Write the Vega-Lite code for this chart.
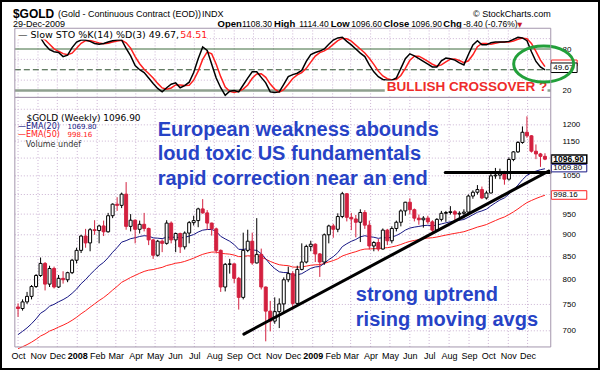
{
"$schema": "https://vega.github.io/schema/vega-lite/v6.json",
"width": 600,
"height": 370,
"autosize": {"type": "none"},
"padding": 0,
"background": "white",
"config": {"view": {"stroke": "black", "strokeWidth": 4}, "text": {"font": "Liberation Sans"}, "axisX": {"labelOverlap": false, "labelFlush": false}, "axis": {"labelOverlap": false}},
"datasets": {
"px": [
{"date":"2007-10-01","o":745,"h":752,"l":726,"c":742,"e20":693.1,"e50":668.0,"k":96,"d":95},
{"date":"2007-10-08","o":742,"h":760,"l":738,"c":755,"e20":699.0,"e50":671.4,"k":97,"d":96},
{"date":"2007-10-15","o":755,"h":775,"l":751,"c":766,"e20":705.4,"e50":675.1,"k":97,"d":96.7},
{"date":"2007-10-22","o":766,"h":789,"l":760,"c":786,"e20":713.1,"e50":679.5,"k":98,"d":97.3},
{"date":"2007-10-29","o":786,"h":812,"l":783,"c":809,"e20":722.2,"e50":684.6,"k":98,"d":97.7},
{"date":"2007-11-05","o":809,"h":848,"l":806,"c":835,"e20":732.9,"e50":690.5,"k":96,"d":97.3},
{"date":"2007-11-12","o":835,"h":838,"l":778,"c":791,"e20":738.4,"e50":694.4,"k":86,"d":93.3},
{"date":"2007-11-19","o":791,"h":830,"l":785,"c":824,"e20":746.5,"e50":699.5,"k":79,"d":87},
{"date":"2007-11-26","o":824,"h":828,"l":782,"c":785,"e20":750.2,"e50":702.8,"k":76,"d":80.3},
{"date":"2007-12-03","o":785,"h":810,"l":783,"c":803,"e20":755.2,"e50":706.8,"k":75,"d":76.7},
{"date":"2007-12-10","o":803,"h":818,"l":792,"c":800,"e20":759.5,"e50":710.4,"k":69,"d":73.3},
{"date":"2007-12-17","o":800,"h":817,"l":795,"c":815,"e20":764.8,"e50":714.5,"k":71,"d":71.7},
{"date":"2007-12-24","o":815,"h":845,"l":812,"c":842,"e20":772.1,"e50":719.5,"k":82,"d":74},
{"date":"2007-12-31","o":842,"h":870,"l":835,"c":864,"e20":780.8,"e50":725.2,"k":90,"d":81},
{"date":"2008-01-07","o":864,"h":900,"l":858,"c":897,"e20":791.9,"e50":731.9,"k":93,"d":88.3},
{"date":"2008-01-14","o":897,"h":914,"l":870,"c":881,"e20":800.4,"e50":737.8,"k":93,"d":92},
{"date":"2008-01-21","o":881,"h":916,"l":862,"c":912,"e20":811.0,"e50":744.6,"k":91,"d":92.3},
{"date":"2008-01-28","o":912,"h":935,"l":900,"c":910,"e20":820.4,"e50":751.1,"k":88,"d":90.7},
{"date":"2008-02-04","o":910,"h":924,"l":880,"c":921,"e20":830.0,"e50":757.7,"k":87,"d":88.7},
{"date":"2008-02-11","o":921,"h":934,"l":897,"c":907,"e20":837.3,"e50":763.6,"k":88,"d":87.7},
{"date":"2008-02-18","o":907,"h":953,"l":905,"c":946,"e20":847.6,"e50":770.7,"k":90,"d":88.3},
{"date":"2008-02-25","o":946,"h":977,"l":940,"c":975,"e20":859.7,"e50":778.7,"k":92,"d":90},
{"date":"2008-03-03","o":975,"h":993,"l":958,"c":972,"e20":870.4,"e50":786.3,"k":93,"d":91.7},
{"date":"2008-03-10","o":972,"h":1005,"l":965,"c":1001,"e20":882.8,"e50":794.7,"k":93,"d":92.7},
{"date":"2008-03-17","o":1001,"h":1033,"l":912,"c":920,"e20":886.3,"e50":799.6,"k":81,"d":89},
{"date":"2008-03-24","o":920,"h":950,"l":908,"c":935,"e20":890.9,"e50":804.9,"k":70,"d":81.3},
{"date":"2008-03-31","o":935,"h":937,"l":880,"c":913,"e20":893.0,"e50":809.2,"k":56,"d":69},
{"date":"2008-04-07","o":913,"h":934,"l":903,"c":925,"e20":896.0,"e50":813.7,"k":50,"d":58.7},
{"date":"2008-04-14","o":925,"h":953,"l":908,"c":915,"e20":897.8,"e50":817.7,"k":46,"d":50.7},
{"date":"2008-04-21","o":915,"h":917,"l":876,"c":888,"e20":896.9,"e50":820.4,"k":38,"d":44.7},
{"date":"2008-04-28","o":888,"h":890,"l":845,"c":853,"e20":892.7,"e50":821.7,"k":30,"d":38},
{"date":"2008-05-05","o":853,"h":888,"l":850,"c":885,"e20":892.0,"e50":824.2,"k":23,"d":30.3},
{"date":"2008-05-12","o":885,"h":889,"l":860,"c":880,"e20":890.9,"e50":826.4,"k":18,"d":23.7},
{"date":"2008-05-19","o":880,"h":935,"l":877,"c":928,"e20":894.4,"e50":830.4,"k":24,"d":21.7},
{"date":"2008-05-26","o":928,"h":932,"l":880,"c":888,"e20":893.8,"e50":832.6,"k":29,"d":23.7},
{"date":"2008-06-02","o":888,"h":905,"l":860,"c":903,"e20":894.7,"e50":835.4,"k":31,"d":28},
{"date":"2008-06-09","o":903,"h":905,"l":858,"c":872,"e20":892.5,"e50":836.8,"k":24,"d":28},
{"date":"2008-06-16","o":872,"h":908,"l":866,"c":904,"e20":893.6,"e50":839.4,"k":27,"d":27.3},
{"date":"2008-06-23","o":904,"h":933,"l":880,"c":929,"e20":897.0,"e50":842.9,"k":32,"d":27.7},
{"date":"2008-06-30","o":929,"h":946,"l":922,"c":934,"e20":900.5,"e50":846.5,"k":46,"d":35},
{"date":"2008-07-07","o":934,"h":966,"l":918,"c":963,"e20":906.5,"e50":851.1,"k":66,"d":48},
{"date":"2008-07-14","o":963,"h":988,"l":951,"c":953,"e20":910.9,"e50":855.1,"k":83,"d":65},
{"date":"2008-07-21","o":953,"h":960,"l":912,"c":928,"e20":912.5,"e50":857.9,"k":78,"d":75.7},
{"date":"2008-07-28","o":928,"h":929,"l":898,"c":914,"e20":912.6,"e50":860.1,"k":58,"d":73},
{"date":"2008-08-04","o":914,"h":917,"l":857,"c":864,"e20":908.0,"e50":860.3,"k":38,"d":58},
{"date":"2008-08-11","o":864,"h":866,"l":775,"c":785,"e20":896.3,"e50":857.3,"k":24,"d":40},
{"date":"2008-08-18","o":785,"h":836,"l":776,"c":833,"e20":890.3,"e50":856.4,"k":13,"d":25},
{"date":"2008-08-25","o":833,"h":845,"l":813,"c":834,"e20":884.9,"e50":855.5,"k":19,"d":18.7},
{"date":"2008-09-01","o":834,"h":835,"l":793,"c":803,"e20":877.1,"e50":853.4,"k":20,"d":17.3},
{"date":"2008-09-08","o":803,"h":806,"l":740,"c":764,"e20":866.3,"e50":849.9,"k":18,"d":19},
{"date":"2008-09-15","o":764,"h":905,"l":760,"c":864,"e20":866.1,"e50":850.5,"k":28,"d":22},
{"date":"2008-09-22","o":864,"h":912,"l":860,"c":885,"e20":867.9,"e50":851.8,"k":38,"d":28},
{"date":"2008-09-29","o":885,"h":905,"l":832,"c":836,"e20":864.9,"e50":851.2,"k":47,"d":37.7},
{"date":"2008-10-06","o":836,"h":940,"l":835,"c":855,"e20":864.0,"e50":851.4,"k":47,"d":44},
{"date":"2008-10-13","o":855,"h":868,"l":780,"c":785,"e20":856.5,"e50":848.8,"k":39,"d":44.3},
{"date":"2008-10-20","o":785,"h":786,"l":681,"c":737,"e20":845.1,"e50":844.4,"k":31,"d":39},
{"date":"2008-10-27","o":737,"h":757,"l":699,"c":718,"e20":833.0,"e50":839.4,"k":18,"d":29.3},
{"date":"2008-11-03","o":718,"h":764,"l":713,"c":736,"e20":823.8,"e50":835.4,"k":17,"d":22},
{"date":"2008-11-10","o":736,"h":762,"l":705,"c":751,"e20":816.9,"e50":832.1,"k":18,"d":17.7},
{"date":"2008-11-17","o":751,"h":805,"l":732,"c":800,"e20":815.3,"e50":830.8,"k":29,"d":21.3},
{"date":"2008-11-24","o":800,"h":828,"l":795,"c":813,"e20":815.1,"e50":830.1,"k":40,"d":29},
{"date":"2008-12-01","o":813,"h":818,"l":740,"c":752,"e20":809.1,"e50":827.1,"k":43,"d":37.3},
{"date":"2008-12-08","o":752,"h":830,"l":750,"c":822,"e20":810.3,"e50":826.9,"k":45,"d":42.7},
{"date":"2008-12-15","o":822,"h":880,"l":820,"c":838,"e20":812.9,"e50":827.3,"k":49,"d":45.7},
{"date":"2008-12-22","o":838,"h":877,"l":835,"c":873,"e20":818.6,"e50":829.1,"k":62,"d":52},
{"date":"2008-12-29","o":873,"h":886,"l":862,"c":878,"e20":824.3,"e50":831.0,"k":72,"d":61},
{"date":"2009-01-05","o":878,"h":880,"l":838,"c":856,"e20":827.3,"e50":832.0,"k":75,"d":69.7},
{"date":"2009-01-12","o":856,"h":858,"l":806,"c":838,"e20":828.3,"e50":832.2,"k":77,"d":74.7},
{"date":"2009-01-19","o":838,"h":903,"l":832,"c":900,"e20":835.1,"e50":834.9,"k":80,"d":77.3},
{"date":"2009-01-26","o":900,"h":924,"l":880,"c":921,"e20":843.3,"e50":838.2,"k":87,"d":81.3},
{"date":"2009-02-02","o":921,"h":926,"l":893,"c":913,"e20":849.9,"e50":841.2,"k":93,"d":86.7},
{"date":"2009-02-09","o":913,"h":952,"l":906,"c":944,"e20":858.9,"e50":845.2,"k":96,"d":92},
{"date":"2009-02-16","o":944,"h":1007,"l":940,"c":1002,"e20":872.5,"e50":851.4,"k":97,"d":95.3},
{"date":"2009-02-23","o":1002,"h":1004,"l":932,"c":942,"e20":879.1,"e50":854.9,"k":91,"d":94.7},
{"date":"2009-03-02","o":942,"h":953,"l":911,"c":938,"e20":884.7,"e50":858.2,"k":86,"d":91.3},
{"date":"2009-03-09","o":938,"h":948,"l":894,"c":930,"e20":889.0,"e50":861.0,"k":80,"d":85.7},
{"date":"2009-03-16","o":930,"h":962,"l":883,"c":954,"e20":895.2,"e50":864.6,"k":74,"d":80},
{"date":"2009-03-23","o":954,"h":960,"l":914,"c":923,"e20":897.8,"e50":866.9,"k":69,"d":74.3},
{"date":"2009-03-30","o":923,"h":934,"l":866,"c":874,"e20":895.5,"e50":867.2,"k":57,"d":66.7},
{"date":"2009-04-06","o":874,"h":885,"l":862,"c":882,"e20":894.2,"e50":867.8,"k":47,"d":57.7},
{"date":"2009-04-13","o":882,"h":890,"l":862,"c":867,"e20":891.6,"e50":867.8,"k":40,"d":48},
{"date":"2009-04-20","o":867,"h":915,"l":866,"c":911,"e20":893.4,"e50":869.5,"k":36,"d":41},
{"date":"2009-04-27","o":911,"h":914,"l":876,"c":886,"e20":892.7,"e50":870.1,"k":35,"d":37},
{"date":"2009-05-04","o":886,"h":920,"l":880,"c":915,"e20":894.8,"e50":871.9,"k":35,"d":35.3},
{"date":"2009-05-11","o":915,"h":934,"l":908,"c":930,"e20":898.2,"e50":874.2,"k":38,"d":36},
{"date":"2009-05-18","o":930,"h":962,"l":920,"c":958,"e20":903.9,"e50":877.4,"k":52,"d":41.7},
{"date":"2009-05-25","o":958,"h":981,"l":946,"c":980,"e20":911.1,"e50":881.4,"k":66,"d":52},
{"date":"2009-06-01","o":980,"h":990,"l":950,"c":961,"e20":915.9,"e50":884.6,"k":73,"d":63.7},
{"date":"2009-06-08","o":961,"h":964,"l":932,"c":940,"e20":918.2,"e50":886.7,"k":70,"d":69.7},
{"date":"2009-06-15","o":940,"h":949,"l":924,"c":936,"e20":919.9,"e50":888.7,"k":66,"d":69.7},
{"date":"2009-06-22","o":936,"h":945,"l":917,"c":940,"e20":921.8,"e50":890.7,"k":62,"d":66},
{"date":"2009-06-29","o":940,"h":946,"l":926,"c":931,"e20":922.7,"e50":892.3,"k":58,"d":62},
{"date":"2009-07-06","o":931,"h":935,"l":905,"c":911,"e20":921.6,"e50":893.0,"k":54,"d":58},
{"date":"2009-07-13","o":911,"h":940,"l":910,"c":937,"e20":923.1,"e50":894.7,"k":54,"d":55.3},
{"date":"2009-07-20","o":937,"h":958,"l":932,"c":952,"e20":925.9,"e50":897.0,"k":63,"d":57},
{"date":"2009-07-27","o":952,"h":958,"l":931,"c":954,"e20":928.6,"e50":899.2,"k":67,"d":61.3},
{"date":"2009-08-03","o":954,"h":970,"l":949,"c":956,"e20":931.2,"e50":901.4,"k":66,"d":65.3},
{"date":"2009-08-10","o":956,"h":960,"l":934,"c":950,"e20":933.0,"e50":903.3,"k":64,"d":65.7},
{"date":"2009-08-17","o":950,"h":957,"l":935,"c":952,"e20":934.8,"e50":905.2,"k":60,"d":63.3},
{"date":"2009-08-24","o":952,"h":962,"l":939,"c":955,"e20":936.7,"e50":907.2,"k":57,"d":60.3},
{"date":"2009-08-31","o":955,"h":1000,"l":947,"c":996,"e20":942.3,"e50":910.7,"k":72,"d":63},
{"date":"2009-09-07","o":996,"h":1011,"l":989,"c":1006,"e20":948.4,"e50":914.4,"k":86,"d":71.7},
{"date":"2009-09-14","o":1006,"h":1025,"l":1000,"c":1013,"e20":954.5,"e50":918.3,"k":92,"d":83.3},
{"date":"2009-09-21","o":1013,"h":1021,"l":988,"c":991,"e20":958.0,"e50":921.1,"k":86,"d":88},
{"date":"2009-09-28","o":991,"h":1010,"l":987,"c":1004,"e20":962.4,"e50":924.4,"k":86,"d":88},
{"date":"2009-10-05","o":1004,"h":1062,"l":1003,"c":1050,"e20":970.7,"e50":929.3,"k":89,"d":87},
{"date":"2009-10-12","o":1050,"h":1072,"l":1042,"c":1052,"e20":978.4,"e50":934.1,"k":90,"d":88.3},
{"date":"2009-10-19","o":1052,"h":1070,"l":1041,"c":1056,"e20":985.8,"e50":938.9,"k":90,"d":89.7},
{"date":"2009-10-26","o":1056,"h":1064,"l":1026,"c":1041,"e20":991.1,"e50":942.9,"k":90,"d":90},
{"date":"2009-11-02","o":1041,"h":1102,"l":1037,"c":1096,"e20":1001.1,"e50":948.9,"k":91,"d":90.3},
{"date":"2009-11-09","o":1096,"h":1120,"l":1091,"c":1118,"e20":1012.2,"e50":955.5,"k":94,"d":91.7},
{"date":"2009-11-16","o":1118,"h":1150,"l":1115,"c":1146,"e20":1024.9,"e50":963.0,"k":97,"d":94},
{"date":"2009-11-23","o":1146,"h":1195,"l":1142,"c":1177,"e20":1039.4,"e50":971.4,"k":96,"d":95.7},
{"date":"2009-11-30","o":1177,"h":1227,"l":1160,"c":1166,"e20":1051.5,"e50":979.0,"k":92,"d":95},
{"date":"2009-12-07","o":1166,"h":1168,"l":1116,"c":1120,"e20":1058.0,"e50":984.5,"k":76,"d":88},
{"date":"2009-12-14","o":1120,"h":1140,"l":1097,"c":1112,"e20":1063.1,"e50":989.5,"k":62,"d":76.7},
{"date":"2009-12-21","o":1112,"h":1115,"l":1075,"c":1105,"e20":1067.1,"e50":994.1,"k":54,"d":64},
{"date":"2009-12-28","o":1105,"h":1114,"l":1094,"c":1096.9,"e20":1069.8,"e50":998.16,"k":49.67,"d":54.51}
],
"months": [
{"m":"2007-10-01"},{"m":"2007-11-01"},{"m":"2007-12-01"},{"m":"2008-01-01"},{"m":"2008-02-01"},{"m":"2008-03-01"},{"m":"2008-04-01"},{"m":"2008-05-01"},{"m":"2008-06-01"},{"m":"2008-07-01"},{"m":"2008-08-01"},{"m":"2008-09-01"},{"m":"2008-10-01"},{"m":"2008-11-01"},{"m":"2008-12-01"},{"m":"2009-01-01"},{"m":"2009-02-01"},{"m":"2009-03-01"},{"m":"2009-04-01"},{"m":"2009-05-01"},{"m":"2009-06-01"},{"m":"2009-07-01"},{"m":"2009-08-01"},{"m":"2009-09-01"},{"m":"2009-10-01"},{"m":"2009-11-01"},{"m":"2009-12-01"}
],
"mgrid": [{"p":700},{"p":750},{"p":800},{"p":850},{"p":900},{"p":950},{"p":1000},{"p":1050},{"p":1100},{"p":1150},{"p":1200},{"p":1250}],
"sgrid": [{"s":35},{"s":65},{"s":95}],
"notes": [
{"t":"European weakness abounds","date":"2008-05-05","v":1164.4},
{"t":"loud toxic US fundamentals","date":"2008-05-05","v":1093.5},
{"t":"rapid correction near an end","date":"2008-05-05","v":1025.6},
{"t":"strong uptrend","date":"2009-03-09","v":756},
{"t":"rising moving avgs","date":"2009-03-09","v":709.1}
],
"trend": [
{"seg":"up","date":"2008-09-16","v":694},
{"seg":"up","date":"2010-01-03","v":1063.5},
{"seg":"flat","date":"2009-07-26","v":1059.3},
{"seg":"flat","date":"2010-01-05","v":1059.3}
]
},
"resolve": {"scale": {"y": "independent"}, "axis": {"y": "independent"}},
"layer": [
{
"layer": [
{"data": {"name": "months"}, "mark": {"type": "rule", "stroke": "#cbb3d3", "strokeDash": [1, 2]},
 "encoding": {"x": {"field": "m", "type": "temporal", "scale": {"type": "utc", "domain": [1189444228000, 1268678557000], "nice": false}},
  "y": {"datum": 10, "type": "quantitative"}, "y2": {"datum": 110}}},
{"data": {"name": "sgrid"}, "mark": {"type": "rule", "stroke": "#cbb3d3", "strokeDash": [1, 2]},
 "encoding": {"x": {"datum": 1190764800000, "type": "temporal"}, "x2": {"datum": 1262736000000},
  "y": {"field": "s", "type": "quantitative"}}},
{"data": {"values": [{}]}, "mark": {"type": "rule", "stroke": "#3d6b3d", "strokeWidth": 1},
 "encoding": {"x": {"datum": 1190764800000, "type": "temporal"}, "x2": {"datum": 1262736000000},
  "y": {"datum": 80, "type": "quantitative"}}},
{"data": {"values": [{}]}, "mark": {"type": "rule", "stroke": "#2f5030", "strokeWidth": 1, "strokeDash": [6, 3]},
 "encoding": {"x": {"datum": 1190764800000, "type": "temporal"}, "x2": {"datum": 1262736000000},
  "y": {"datum": 50, "type": "quantitative"}}},
{"data": {"values": [{}]}, "mark": {"type": "rule", "stroke": "#8fa08f", "strokeWidth": 2.5},
 "encoding": {"x": {"datum": 1190764800000, "type": "temporal"}, "x2": {"datum": 1262736000000},
  "y": {"datum": 20, "type": "quantitative"}}},
{"data": {"name": "px"}, "mark": {"type": "line", "stroke": "#ff2020", "strokeWidth": 1.5},
 "encoding": {"x": {"field": "date", "type": "temporal"},
  "y": {"field": "d", "type": "quantitative", "scale": {"domain": [-384.09, 150.85], "nice": false, "zero": false},
   "axis": {"orient": "right", "offset": -45, "values": [20, 80], "tickCount": 40, "ticks": false, "domain": false, "grid": false, "labelPadding": 7, "labelFont": "Liberation Sans", "labelFontSize": 8, "labelColor": "black", "title": null}}}},
{"data": {"name": "px"}, "mark": {"type": "line", "stroke": "black", "strokeWidth": 1.5},
 "encoding": {"x": {"field": "date", "type": "temporal"}, "y": {"field": "k", "type": "quantitative"}}},
{"data": {"values": [{}]}, "mark": {"type": "rect", "fill": "white"},
 "encoding": {"x": {"datum": 1190764800000, "type": "temporal"}, "x2": {"datum": 1216425600000},
  "y": {"datum": 93.7, "type": "quantitative"}, "y2": {"datum": 108.9}}},
{"data": {"values": [{"t": "\u2014 Slow STO %K(14) %D(3) 49.67,", "date": "2007-10-01", "v": 95.9}]},
 "mark": {"type": "text", "align": "left", "baseline": "alphabetic", "font": "DejaVu Sans", "fontSize": 9.5, "color": "black"},
 "encoding": {"x": {"field": "date", "type": "temporal"}, "y": {"field": "v", "type": "quantitative"}, "text": {"field": "t"}}},
{"data": {"values": [{"t": "54.51", "date": "2008-06-09", "v": 95.9}]},
 "mark": {"type": "text", "align": "left", "baseline": "alphabetic", "font": "DejaVu Sans", "fontSize": 9.5, "color": "#ff1a1a"},
 "encoding": {"x": {"field": "date", "type": "temporal"}, "y": {"field": "v", "type": "quantitative"}, "text": {"field": "t"}}},
{"data": {"values": [{}]}, "mark": {"type": "rect", "fill": "white"},
 "encoding": {"x": {"datum": 1240444800000, "type": "temporal"}, "x2": {"datum": 1262304000000},
  "y": {"datum": 12, "type": "quantitative"}, "y2": {"datum": 34.5}}},
{"data": {"values": [{"t": "BULLISH CROSSOVER ?", "date": "2009-04-26", "v": 18.6}]},
 "mark": {"type": "text", "align": "left", "baseline": "alphabetic", "font": "Liberation Sans", "fontWeight": "bold", "fontSize": 13.5, "color": "#ee2b2b"},
 "encoding": {"x": {"field": "date", "type": "temporal"}, "y": {"field": "v", "type": "quantitative"}, "text": {"field": "t"}}},
{"data": {"values": [{}]}, "mark": {"type": "rect", "fill": "white", "stroke": "#ff2020", "strokeWidth": 1},
 "encoding": {"x": {"datum": 1262822400000, "type": "temporal"}, "x2": {"datum": 1266278400000},
  "y": {"datum": 55.4, "type": "quantitative"}, "y2": {"datum": 64.1}}},
{"data": {"values": [{}]}, "mark": {"type": "rect", "fill": "white", "stroke": "black", "strokeWidth": 1},
 "encoding": {"x": {"datum": 1262736000000, "type": "temporal"}, "x2": {"datum": 1266278400000},
  "y": {"datum": 46.0, "type": "quantitative"}, "y2": {"datum": 59.8}}},
{"data": {"values": [{"t": "49.67", "date": "2010-01-10", "v": 53}]},
 "mark": {"type": "text", "align": "left", "baseline": "middle", "font": "Liberation Sans", "fontSize": 8, "color": "black"},
 "encoding": {"x": {"field": "date", "type": "temporal"}, "y": {"field": "v", "type": "quantitative"}, "text": {"field": "t"}}},
{"data": {"values": [{}]}, "mark": {"type": "point", "shape": "M-1,0A1,0.6,0,1,0,1,0A1,0.6,0,1,0,-1,0Z", "size": 3600, "filled": false, "stroke": "#22a03a", "strokeWidth": 3, "opacity": 1},
 "encoding": {"x": {"datum": 1261785600000, "type": "temporal"}, "y": {"datum": 58.3, "type": "quantitative"}}},
{"data": {"values": [{"t": "$GOLD", "date": "2007-09-23", "v": 125.5}]},
 "mark": {"type": "text", "align": "left", "baseline": "alphabetic", "font": "Liberation Sans", "fontWeight": "bold", "fontSize": 12, "color": "black"},
 "encoding": {"x": {"field": "date", "type": "temporal"}, "y": {"field": "v", "type": "quantitative"}, "text": {"field": "t"}}},
{"data": {"values": [{"t": "(Gold - Continuous Contract (EOD))", "date": "2007-12-02", "v": 126.3}, {"t": "INDX", "date": "2008-07-13", "v": 126.3}, {"t": "29-Dec-2009", "date": "2007-09-23", "v": 111.8}]},
 "mark": {"type": "text", "align": "left", "baseline": "alphabetic", "font": "Liberation Sans", "fontSize": 9, "color": "black"},
 "encoding": {"x": {"field": "date", "type": "temporal"}, "y": {"field": "v", "type": "quantitative"}, "text": {"field": "t"}}},
{"data": {"values": [{"t": "\u00a9 StockCharts.com", "date": "2010-01-06", "v": 126.3}]},
 "mark": {"type": "text", "align": "right", "baseline": "alphabetic", "font": "Liberation Sans", "fontSize": 9, "color": "black"},
 "encoding": {"x": {"field": "date", "type": "temporal"}, "y": {"field": "v", "type": "quantitative"}, "text": {"field": "t"}}},
{"data": {"values": [{"t": "Open", "date": "2008-08-06", "v": 111.8}, {"t": "High", "date": "2008-11-02", "v": 111.8}, {"t": "Low", "date": "2009-01-29", "v": 111.8}, {"t": "Close", "date": "2009-04-21", "v": 111.8}, {"t": "Chg", "date": "2009-07-23", "v": 111.8}]},
 "mark": {"type": "text", "align": "left", "baseline": "alphabetic", "font": "Liberation Sans", "fontWeight": "bold", "fontSize": 9.5, "color": "black"},
 "encoding": {"x": {"field": "date", "type": "temporal"}, "y": {"field": "v", "type": "quantitative"}, "text": {"field": "t"}}},
{"data": {"values": [{"t": "1108.30", "date": "2008-09-13", "v": 111.8}, {"t": "1114.40", "date": "2008-12-11", "v": 111.8}, {"t": "1096.60", "date": "2009-03-02", "v": 111.8}, {"t": "1096.90", "date": "2009-06-03", "v": 111.8}, {"t": "-8.40 (-0.76%)", "date": "2009-08-23", "v": 111.8}]},
 "mark": {"type": "text", "align": "left", "baseline": "alphabetic", "font": "Liberation Sans", "fontSize": 8.5, "color": "black"},
 "encoding": {"x": {"field": "date", "type": "temporal"}, "y": {"field": "v", "type": "quantitative"}, "text": {"field": "t"}}},
{"data": {"values": [{"t": "\u25bc", "date": "2009-11-15", "v": 112.5}]},
 "mark": {"type": "text", "align": "left", "baseline": "alphabetic", "font": "DejaVu Sans", "fontSize": 6.5, "color": "#cc1a2a"},
 "encoding": {"x": {"field": "date", "type": "temporal"}, "y": {"field": "v", "type": "quantitative"}, "text": {"field": "t"}}},
{"data": {"values": [{}]}, "mark": {"type": "rect", "fill": "transparent", "stroke": "#a496ad", "strokeWidth": 1},
 "encoding": {"x": {"datum": 1190764800000, "type": "temporal"}, "x2": {"datum": 1262736000000},
  "y": {"datum": 10, "type": "quantitative"}, "y2": {"datum": 110}}}
]
},
{
"layer": [
{"data": {"name": "months"}, "mark": {"type": "rule", "stroke": "#cbb3d3", "strokeDash": [1, 2]},
 "encoding": {"x": {"field": "m", "type": "temporal"},
  "y": {"datum": 671, "type": "quantitative"}, "y2": {"datum": 1289.3}}},
{"data": {"name": "mgrid"}, "mark": {"type": "rule", "stroke": "#cbb3d3", "strokeDash": [1, 2]},
 "encoding": {"x": {"datum": 1190764800000, "type": "temporal"}, "x2": {"datum": 1262736000000},
  "y": {"field": "p", "type": "quantitative"}}},
{"data": {"name": "px"}, "mark": {"type": "line", "stroke": "#ff2020", "strokeWidth": 1},
 "encoding": {"x": {"field": "date", "type": "temporal"},
  "y": {"field": "e50", "type": "quantitative", "scale": {"type": "log", "domain": [631.75, 1663.7], "nice": false},
   "axis": {"orient": "right", "offset": -45, "values": [700, 750, 800, 850, 900, 950, 1050, 1150, 1200], "tickCount": 40, "format": "d", "ticks": false, "domain": false, "grid": false, "labelPadding": 7, "labelFont": "Liberation Sans", "labelFontSize": 8, "labelColor": "black", "title": null}}}},
{"data": {"name": "px"}, "mark": {"type": "line", "stroke": "#161684", "strokeWidth": 1},
 "encoding": {"x": {"field": "date", "type": "temporal"}, "y": {"field": "e20", "type": "quantitative"}}},
{"data": {"name": "px"}, "mark": {"type": "rule", "strokeWidth": 1},
 "encoding": {"x": {"field": "date", "type": "temporal",
   "axis": {"orient": "bottom", "offset": -23, "tickCount": 60,
    "values": [{"year":2007,"month":10,"date":1,"utc":true},{"year":2007,"month":11,"date":1,"utc":true},{"year":2007,"month":12,"date":1,"utc":true},{"year":2008,"month":1,"date":1,"utc":true},{"year":2008,"month":2,"date":1,"utc":true},{"year":2008,"month":3,"date":1,"utc":true},{"year":2008,"month":4,"date":1,"utc":true},{"year":2008,"month":5,"date":1,"utc":true},{"year":2008,"month":6,"date":1,"utc":true},{"year":2008,"month":7,"date":1,"utc":true},{"year":2008,"month":8,"date":1,"utc":true},{"year":2008,"month":9,"date":1,"utc":true},{"year":2008,"month":10,"date":1,"utc":true},{"year":2008,"month":11,"date":1,"utc":true},{"year":2008,"month":12,"date":1,"utc":true},{"year":2009,"month":1,"date":1,"utc":true},{"year":2009,"month":2,"date":1,"utc":true},{"year":2009,"month":3,"date":1,"utc":true},{"year":2009,"month":4,"date":1,"utc":true},{"year":2009,"month":5,"date":1,"utc":true},{"year":2009,"month":6,"date":1,"utc":true},{"year":2009,"month":7,"date":1,"utc":true},{"year":2009,"month":8,"date":1,"utc":true},{"year":2009,"month":9,"date":1,"utc":true},{"year":2009,"month":10,"date":1,"utc":true},{"year":2009,"month":11,"date":1,"utc":true},{"year":2009,"month":12,"date":1,"utc":true}],
    "labelExpr": "utcmonth(datum.value) === 0 ? utcFormat(datum.value, '%Y') : utcFormat(datum.value, '%b')",
    "labelFontWeight": {"condition": {"test": "utcmonth(datum.value) === 0", "value": "bold"}, "value": "normal"},
    "ticks": false, "domain": false, "grid": false, "labelPadding": 4, "labelOverlap": false, "labelFlush": false,
    "labelFont": "Liberation Sans", "labelFontSize": 9, "labelColor": "black", "title": null}},
  "y": {"field": "l", "type": "quantitative"}, "y2": {"field": "h"},
  "color": {"condition": {"test": "datum.c >= datum.o", "value": "black"}, "value": "#d3203f"}}},
{"data": {"name": "px"}, "mark": {"type": "bar", "width": 3, "strokeWidth": 1},
 "encoding": {"x": {"field": "date", "type": "temporal"},
  "y": {"field": "o", "type": "quantitative"}, "y2": {"field": "c"},
  "fill": {"condition": {"test": "datum.c >= datum.o", "value": "white"}, "value": "#d3203f"},
  "stroke": {"condition": {"test": "datum.c >= datum.o", "value": "black"}, "value": "#d3203f"}}},
{"data": {"name": "trend"}, "mark": {"type": "line", "stroke": "black", "strokeWidth": 3, "strokeCap": "round"},
 "encoding": {"x": {"field": "date", "type": "temporal"}, "y": {"field": "v", "type": "quantitative"}, "detail": {"field": "seg"}}},
{"data": {"name": "notes"}, "mark": {"type": "text", "align": "left", "baseline": "alphabetic", "font": "Liberation Sans", "fontWeight": "bold", "fontSize": 20, "color": "#2743c6"},
 "encoding": {"x": {"field": "date", "type": "temporal"}, "y": {"field": "v", "type": "quantitative"}, "text": {"field": "t"}}},
{"data": {"values": [{"t": "$GOLD (Weekly) 1096.90", "date": "2007-10-14", "v": 1213.7}]},
 "mark": {"type": "text", "align": "left", "baseline": "alphabetic", "font": "DejaVu Sans", "fontSize": 9, "color": "black"},
 "encoding": {"x": {"field": "date", "type": "temporal"}, "y": {"field": "v", "type": "quantitative"}, "text": {"field": "t"}}},
{"data": {"values": [{"t": "\u2014EMA(20)", "date": "2007-10-01", "v": 1187.0}]},
 "mark": {"type": "text", "align": "left", "baseline": "alphabetic", "font": "DejaVu Sans", "fontSize": 8, "color": "#161684"},
 "encoding": {"x": {"field": "date", "type": "temporal"}, "y": {"field": "v", "type": "quantitative"}, "text": {"field": "t"}}},
{"data": {"values": [{"t": "1069.80", "date": "2007-12-17", "v": 1187.0}]},
 "mark": {"type": "text", "align": "left", "baseline": "alphabetic", "font": "DejaVu Sans", "fontSize": 7, "color": "#161684"},
 "encoding": {"x": {"field": "date", "type": "temporal"}, "y": {"field": "v", "type": "quantitative"}, "text": {"field": "t"}}},
{"data": {"values": [{"t": "\u2014EMA(50)", "date": "2007-10-01", "v": 1161.5}]},
 "mark": {"type": "text", "align": "left", "baseline": "alphabetic", "font": "DejaVu Sans", "fontSize": 8, "color": "#ff1a1a"},
 "encoding": {"x": {"field": "date", "type": "temporal"}, "y": {"field": "v", "type": "quantitative"}, "text": {"field": "t"}}},
{"data": {"values": [{"t": "998.16", "date": "2007-12-17", "v": 1161.5}]},
 "mark": {"type": "text", "align": "left", "baseline": "alphabetic", "font": "DejaVu Sans", "fontSize": 7, "color": "#ff1a1a"},
 "encoding": {"x": {"field": "date", "type": "temporal"}, "y": {"field": "v", "type": "quantitative"}, "text": {"field": "t"}}},
{"data": {"values": [{"t": "Volume undef", "date": "2007-10-13", "v": 1132.5}]},
 "mark": {"type": "text", "align": "left", "baseline": "alphabetic", "font": "DejaVu Sans", "fontSize": 8, "color": "#333333"},
 "encoding": {"x": {"field": "date", "type": "temporal"}, "y": {"field": "v", "type": "quantitative"}, "text": {"field": "t"}}},
{"data": {"values": [{}]}, "mark": {"type": "rect", "fill": "white", "stroke": "#ff2020", "strokeWidth": 1},
 "encoding": {"x": {"datum": 1262822400000, "type": "temporal"}, "x2": {"datum": 1267574400000},
  "y": {"datum": 987.6, "type": "quantitative"}, "y2": {"datum": 1010}}},
{"data": {"values": [{}]}, "mark": {"type": "rect", "fill": "white", "stroke": "#161684", "strokeWidth": 1},
 "encoding": {"x": {"datum": 1262822400000, "type": "temporal"}, "x2": {"datum": 1267574400000},
  "y": {"datum": 1061.0, "type": "quantitative"}, "y2": {"datum": 1082.3}}},
{"data": {"values": [{}]}, "mark": {"type": "rect", "fill": "white", "stroke": "black", "strokeWidth": 1.5},
 "encoding": {"x": {"datum": 1262822400000, "type": "temporal"}, "x2": {"datum": 1267574400000},
  "y": {"datum": 1085.2, "type": "quantitative"}, "y2": {"datum": 1108.9}}},
{"data": {"values": [{"t": "1069.80", "date": "2010-01-10", "v": 1071.5}, {"t": "998.16", "date": "2010-01-10", "v": 998.7}]},
 "mark": {"type": "text", "align": "left", "baseline": "middle", "font": "Liberation Sans", "fontSize": 8, "color": "black"},
 "encoding": {"x": {"field": "date", "type": "temporal"}, "y": {"field": "v", "type": "quantitative"}, "text": {"field": "t"}}},
{"data": {"values": [{"t": "1096.90", "date": "2010-01-10", "v": 1096.9}]},
 "mark": {"type": "text", "align": "left", "baseline": "middle", "font": "Liberation Sans", "fontWeight": "bold", "fontSize": 8.5, "color": "black"},
 "encoding": {"x": {"field": "date", "type": "temporal"}, "y": {"field": "v", "type": "quantitative"}, "text": {"field": "t"}}},
{"data": {"values": [{}]}, "mark": {"type": "rect", "fill": "transparent", "stroke": "#a496ad", "strokeWidth": 1},
 "encoding": {"x": {"datum": 1190764800000, "type": "temporal"}, "x2": {"datum": 1262736000000},
  "y": {"datum": 671, "type": "quantitative"}, "y2": {"datum": 1289.3}}}
]
}
]
}
